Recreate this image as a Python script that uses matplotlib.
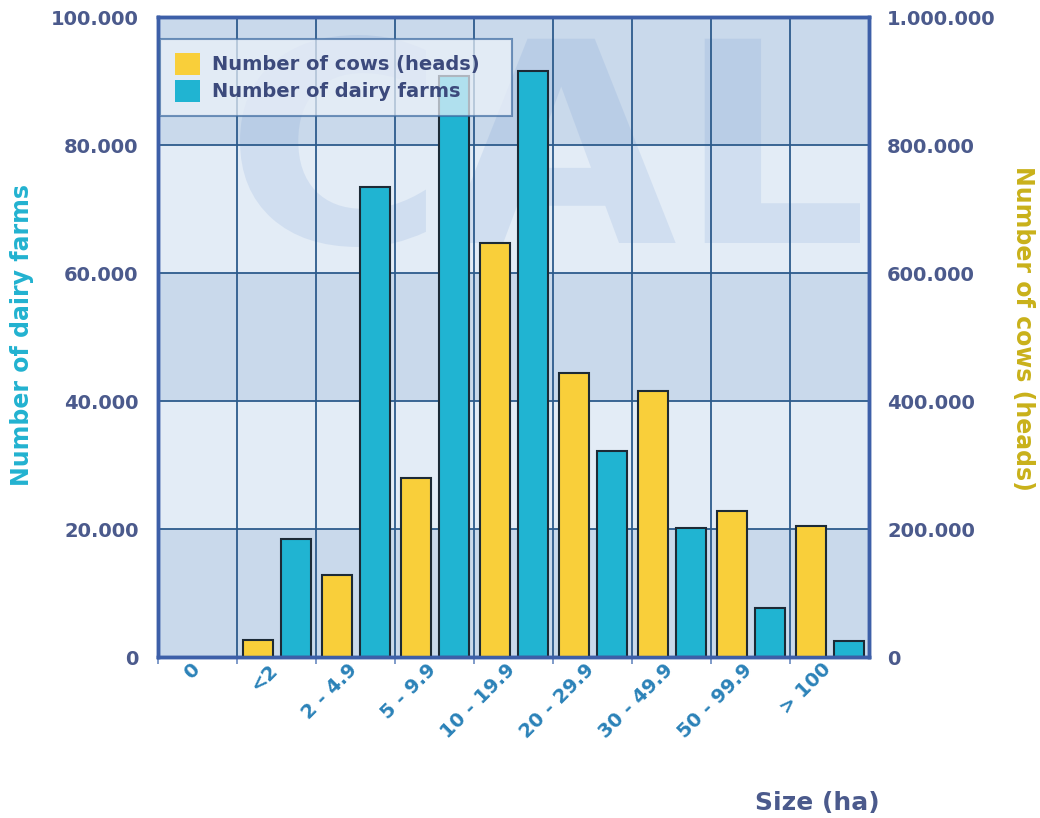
import matplotlib
matplotlib.use("Agg")
import matplotlib.pyplot as plt
from matplotlib.patches import Patch, PathPatch
from matplotlib.textpath import TextPath
from matplotlib.font_manager import FontProperties
from matplotlib.transforms import Affine2D
from matplotlib.ticker import FuncFormatter

# size classes (ha); the first label marks the origin of the axis
size_labels = ['0', '<2', '2 - 4.9', '5 - 9.9', '10 - 19.9', '20 - 29.9',
               '30 - 49.9', '50 - 99.9', '> 100']

# one value per class, from '<2' to '> 100'
cows = [27000, 128000, 280000, 647000, 444000, 416000, 228000, 205000]
farms = [18400, 73500, 90800, 91500, 32200, 20100, 7700, 2500]

farms_ticks = [0, 20000, 40000, 60000, 80000, 100000]
cows_ticks = [0, 200000, 400000, 600000, 800000, 1000000]

YELLOW = '#f9cf3a'
CYAN = '#20b4d2'
EDGE = '#1c2a36'
SPINE = '#3d5fa8'
GRID = '#2d5b8c'
TICK_TXT = '#4b5a8c'


def dotted(v, pos=None):
    return f'{v:,.0f}'.replace(',', '.')


fig = plt.figure(figsize=(10.4, 8.18), dpi=100)
ax = fig.add_axes([0.1519, 0.1968, 0.6837, 0.7824])
ax2 = ax.twinx()

n_cls = len(size_labels)
ax.set_xlim(0, n_cls)
ax.set_ylim(farms_ticks[0], farms_ticks[-1])
ax2.set_ylim(cows_ticks[0], cows_ticks[-1])

# alternating horizontal bands
for k in range(len(farms_ticks) - 1):
    c = '#c9d9eb' if k % 2 == 0 else '#e3ecf6'
    ax.axhspan(farms_ticks[k], farms_ticks[k + 1], color=c, zorder=0, lw=0)

# faint logo shape in the background (placed in pixel units)
logo = TextPath((0, 0), 'CAL', size=290,
                prop=FontProperties(family='DejaVu Sans', weight='bold'))
bb = logo.get_extents()
logo_tr = (Affine2D().translate(-bb.x0, -bb.y0)
           .scale(620 / bb.width, 212 / bb.height)
           .translate(240, 818 - 247))
logo_patch = PathPatch(logo, transform=logo_tr, facecolor='#4a7cc8',
                       edgecolor='none', alpha=0.12, zorder=0.5)
logo_patch.set_clip_path(ax.patch)
ax.add_artist(logo_patch)

# grid
for x in range(1, n_cls):
    ax.axvline(x, color=GRID, lw=1.3, zorder=1)
for y in farms_ticks[1:-1]:
    ax.axhline(y, color=GRID, lw=1.3, zorder=1)

# bars, one pair per size class
pos = [i + 1 for i in range(len(cows))]
w = 0.38
ax.bar([p + 0.745 for p in pos], farms, width=w, color=CYAN,
       edgecolor=EDGE, linewidth=1.5, zorder=3)
ax2.bar([p + 0.265 for p in pos], cows, width=w, color=YELLOW,
        edgecolor=EDGE, linewidth=1.5, zorder=3)
ax2.patch.set_visible(False)

# x axis: tick marks on the class boundaries, labels between them
ax.set_xticks(range(n_cls))
ax.set_xticklabels([])
ax.set_xticks([i + 0.4 for i in range(n_cls)], minor=True)
ax.set_xticklabels(size_labels, minor=True, rotation=45, ha='right',
                   va='top', rotation_mode='anchor', color='#2b82b8',
                   fontsize=14, fontweight='bold')
ax.tick_params(axis='x', which='major', length=5, width=1.2,
               color='#6a8ac0', direction='out')
ax.tick_params(axis='x', which='minor', length=0, pad=2)
ax2.tick_params(axis='x', length=0)

# y axes
ax.set_yticks(farms_ticks)
ax.yaxis.set_major_formatter(FuncFormatter(dotted))
ax.tick_params(axis='y', length=0, pad=14, labelsize=14,
               labelcolor=TICK_TXT)
ax2.set_yticks(cows_ticks)
ax2.yaxis.set_major_formatter(FuncFormatter(dotted))
ax2.tick_params(axis='y', length=0, pad=13, labelsize=14,
                labelcolor=TICK_TXT)
for a in (ax, ax2):
    for lab in a.get_yticklabels():
        lab.set_fontweight('bold')
    for sp in a.spines.values():
        sp.set_color(SPINE)
        sp.set_linewidth(2.5)
        sp.set_zorder(5)

# axis titles
fig.text(22 / 1040, 1 - 335 / 818, 'Number of dairy farms', rotation=90,
         ha='center', va='center', fontsize=17, fontweight='bold',
         color='#22b2d0')
fig.text(1023 / 1040, 1 - 328 / 818, 'Number of cows (heads)', rotation=270,
         ha='center', va='center', fontsize=17, fontweight='bold',
         color='#c9b11a')
fig.text(880 / 1040, 1 - 803 / 818, 'Size (ha)', ha='right', va='center',
         fontsize=18, fontweight='bold', color=TICK_TXT)

# legend
handles = [Patch(facecolor=YELLOW, edgecolor='none', label='Number of cows (heads)'),
           Patch(facecolor=CYAN, edgecolor='none', label='Number of dairy farms')]
leg = ax2.legend(handles=handles, loc='upper left',
                 bbox_to_anchor=(0.003, 0.845, 0.495, 0.121), mode='expand',
                 borderaxespad=0, handlelength=1.3, handleheight=1.3,
                 labelspacing=0.3, borderpad=0.75, handletextpad=0.6,
                 fancybox=False, framealpha=0.7, facecolor='#eef3fa',
                 edgecolor='#3d6aa0', prop={'weight': 'bold', 'size': 14})
leg.get_frame().set_linewidth(1.5)
for t in leg.get_texts():
    t.set_color('#3c4a7c')
leg.set_zorder(10)

fig.savefig('out.png', dpi=100, facecolor='white')
